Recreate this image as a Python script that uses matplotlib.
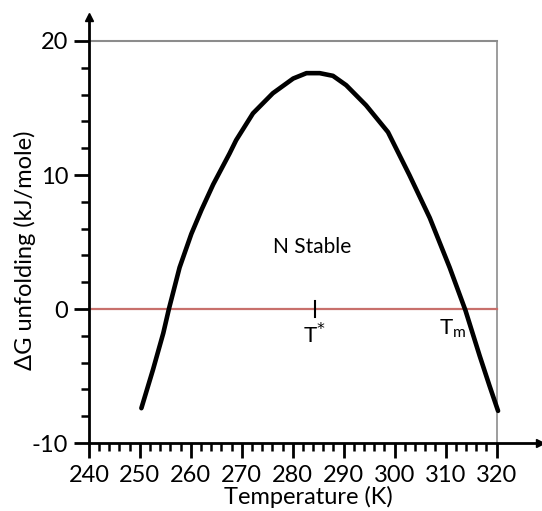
import matplotlib
matplotlib.use("Agg")
import matplotlib.pyplot as plt

plt.rcParams['font.family'] = ['Lato', 'DejaVu Sans']
plt.rcParams['axes.unicode_minus'] = False

# curve
temp = [250.3, 252.6, 254.6, 255.7, 257.8, 260.1, 262.1, 264.4, 267.6, 268.9,
        272.2, 276.1, 280.1, 282.7, 285.3, 287.9, 290.5, 294.4, 298.7, 302.9,
        306.9, 310.8, 313.9, 316.7, 318.6, 320.3]
dg = [-7.4, -4.5, -1.8, 0, 3.1, 5.6, 7.4, 9.3, 11.6, 12.6,
      14.6, 16.1, 17.2, 17.6, 17.6, 17.4, 16.7, 15.2, 13.2, 10.0,
      6.8, 3.1, -0.1, -3.5, -5.7, -7.6]

x_ticks = [240, 250, 260, 270, 280, 290, 300, 310, 320]
y_ticks = [-10, 0, 10, 20]
t_star = 284.3

fig = plt.figure(figsize=(5.42, 5.11), dpi=100)
ax = fig.add_axes([0.164, 0.133, 0.832, 0.834])

ax.set_xlim(240, 328.5)
ax.set_ylim(-10, 21.8)

# grey frame and zero line
ax.plot([240, 320], [20, 20], color='#8c8c8c', lw=1.5)
ax.plot([320, 320], [-10, 20], color='#8c8c8c', lw=1.2)
ax.plot([240, 320], [0, 0], color='#c8706c', lw=1.6)

ax.plot(temp, dg, color='black', lw=3.3, solid_capstyle='round',
        solid_joinstyle='round')

# T* marker
ax.plot([t_star, t_star], [-0.6, 0.6], color='black', lw=1.5)
ax.text(t_star, -1.0, r'T$^{*}$', ha='center', va='top', fontsize=16)
ax.text(311.4, -1.5, r'T$_{\mathregular{m}}$', ha='center', va='center', fontsize=16)
ax.text(283.9, 4.6, 'N Stable', ha='center', va='center', fontsize=15)

for s in ['top', 'right']:
    ax.spines[s].set_visible(False)
for s in ['left', 'bottom']:
    ax.spines[s].set_linewidth(2)

# axis arrows
ax.plot(1, -10, '>k', transform=ax.get_yaxis_transform(), clip_on=False, ms=6)
ax.plot(240, 1, '^k', transform=ax.get_xaxis_transform(), clip_on=False, ms=6)

ax.set_xticks(x_ticks)
ax.set_xticks(range(240, 321, 2), minor=True)
ax.set_yticks(y_ticks)
ax.set_yticks(range(-10, 21, 2), minor=True)
ax.tick_params(which='major', length=11, width=2, labelsize=17, pad=4)
ax.tick_params(axis='x', which='major', pad=5)
ax.tick_params(which='minor', length=5.5, width=1.8)

ax.set_xlabel('Temperature (K)', fontsize=17)
ax.set_ylabel('ΔG unfolding (kJ/mole)', fontsize=17)
ax.xaxis.set_label_coords(0.486, -0.100)
ax.yaxis.set_label_coords(-0.118, 0.453)

fig.savefig('out.png', dpi=100)
